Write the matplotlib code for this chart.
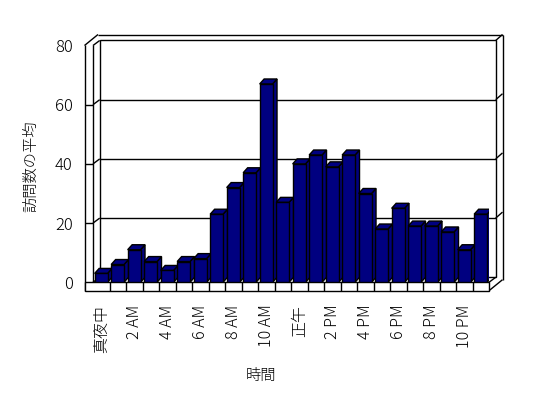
import matplotlib
matplotlib.use("Agg")
import matplotlib.pyplot as plt
from matplotlib.patches import Rectangle, Polygon

plt.rcParams['font.family'] = ['Noto Sans CJK JP', 'DejaVu Sans']

# data
hours = list(range(24))
visits = [3, 6, 11, 7, 4, 7, 8, 23, 32, 37, 67, 27,
          40, 43, 39, 43, 30, 18, 25, 19, 19, 17, 11, 23]
tick_labels = ['真夜中', '2 AM', '4 AM', '6 AM', '8 AM', '10 AM',
               '正午', '2 PM', '4 PM', '6 PM', '8 PM', '10 PM']
y_ticks = [0, 20, 40, 60, 80]

BAR_COLOR = '#000080'

fig = plt.figure(figsize=(5.48, 3.98), dpi=100)
ax = fig.add_axes([93 / 548, 115.7 / 398, 396 / 548, 236.8 / 398])
ax.set_xlim(0, 24)
ax.set_ylim(0, 80)
for s in ax.spines.values():
    s.set_visible(False)

# pixel sizes converted to data units
px_x = 396 / 24
px_y = 236.8 / 80
bx, by = 6.7 / px_x, 5 / px_y        # back wall offset
ox, oy = 13.5 / px_x, 11 / px_y      # outer edge of the walls
wall = 8.5 / px_x                    # left wall thickness
floor = 8.4 / px_y                   # floor thickness
dx, dy = 4.5 / px_x, 5 / px_y        # bar depth

line_kw = dict(color='black', lw=1, clip_on=False, solid_capstyle='butt')


def seg(p, q, z=1):
    ax.plot([p[0], q[0]], [p[1], q[1]], zorder=z, **line_kw)


# back wall and gridlines
ax.add_patch(Rectangle((bx, by), 24, 80, fc='white', ec='black', lw=1,
                       zorder=0.5, clip_on=False))
for v in y_ticks[1:-1]:
    seg((bx, v + by), (24 + bx, v + by))
for v in y_ticks:
    seg((0, v), (bx, v + by))
for v in y_ticks[1:]:
    seg((24 + bx, v + by), (24 + ox, v + oy))

# outer edges
seg((-wall + ox, 80 + oy), (24 + ox, 80 + oy))
seg((-wall, 80), (-wall + ox, 80 + oy))
seg((24 + ox, 80 + oy), (24 + ox, -floor + oy))
seg((24, -floor), (24 + ox, -floor + oy))
seg((24, 0), (24 + bx, by))

# left wall
seg((-wall, 80), (-wall, -floor))
seg((0, 80), (0, 0))
for v in y_ticks[1:-1]:
    seg((-wall, v), (0, v))

# floor
ax.add_patch(Rectangle((-wall, -floor), 24 + wall, floor, fc='white',
                       ec='black', lw=1, zorder=2, clip_on=False))
for c in hours[1:]:
    seg((c, -floor), (c, 0), z=2)

# bars
bars = ax.bar([h + 0.1 for h in hours], visits, width=0.78, align='edge',
              color=BAR_COLOR, edgecolor='black', lw=1)
for i, (h, v, rect) in enumerate(zip(hours, visits, bars)):
    z = 3 + i * 0.1
    rect.set_zorder(z)
    x0, x1 = h + 0.1, h + 0.88
    side = Polygon([(x1, 0), (x1 + dx, dy), (x1 + dx, v + dy), (x1, v)],
                   closed=True, fc=BAR_COLOR, ec='black', lw=1, zorder=z - 0.01)
    top = Polygon([(x0, v), (x0 + dx, v + dy), (x1 + dx, v + dy), (x1, v)],
                  closed=True, fc=BAR_COLOR, ec='black', lw=1, zorder=z - 0.01)
    ax.add_patch(side)
    ax.add_patch(top)

ax.set_xticks([h + 0.5 for h in hours[::2]])
ax.set_xticklabels(tick_labels, rotation=90, fontsize=11.5, fontweight='light')
ax.set_yticks(y_ticks)
ax.set_yticklabels([str(v) for v in y_ticks], fontsize=12, fontweight='light')
ax.tick_params(axis='x', length=0, pad=16)
ax.tick_params(axis='y', length=0, pad=14.5)

fig.text(31 / 548, 1 - 166 / 398, '訪問数の平均', rotation=90,
         ha='center', va='center', fontsize=11, fontweight='light')
fig.text(261 / 548, 1 - 376 / 398, '時間', ha='center', va='center',
         fontsize=11, fontweight='light')

fig.savefig('out.png', dpi=100)
